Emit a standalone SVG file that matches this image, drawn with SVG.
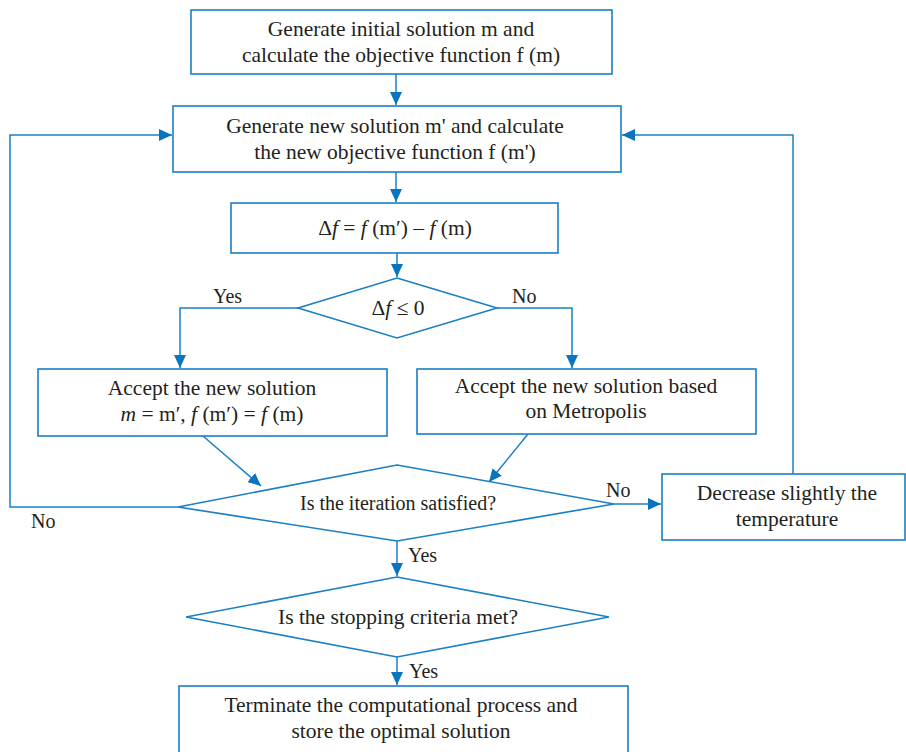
<svg xmlns="http://www.w3.org/2000/svg" width="906" height="752" viewBox="0 0 906 752">
<style>
.box{fill:#fff;stroke:#1b7fc4;stroke-width:1.6}
.con{fill:none;stroke:#1b7fc4;stroke-width:1.5}
text{font-family:"Liberation Serif","Times New Roman",serif;font-size:21.5px;fill:#231f20;text-anchor:middle}
.lbl{text-anchor:start;font-size:20px}
.i{font-style:italic}
</style>
<defs>
<marker id="ah" markerUnits="userSpaceOnUse" markerWidth="14" markerHeight="14" refX="13" refY="6" orient="auto">
<path d="M0,0 L13,6 L0,12 z" fill="#0a75bf"/>
</marker>
</defs>
<rect width="906" height="752" fill="#fff"/>
<g id="connectors">
<path class="con" d="M396,74 V105" marker-end="url(#ah)"/>
<path class="con" d="M396,172 V202" marker-end="url(#ah)"/>
<path class="con" d="M397,253 V277" marker-end="url(#ah)"/>
<path class="con" d="M298,308 H180 V368" marker-end="url(#ah)"/>
<path class="con" d="M497,308 H572 V368" marker-end="url(#ah)"/>
<path class="con" d="M203,436 L261,486" marker-end="url(#ah)"/>
<path class="con" d="M528,434 L489,482" marker-end="url(#ah)"/>
<path class="con" d="M178,507 H10 V135 H172" marker-end="url(#ah)"/>
<path class="con" d="M614,504 H661" marker-end="url(#ah)"/>
<path class="con" d="M793,474 V135 H622" marker-end="url(#ah)"/>
<path class="con" d="M397,541 V576" marker-end="url(#ah)"/>
<path class="con" d="M397,657 V685" marker-end="url(#ah)"/>
<text class="lbl" x="213" y="303">Yes</text>
<text class="lbl" x="512" y="303">No</text>
<text class="lbl" x="606" y="497">No</text>
<text class="lbl" x="31" y="528">No</text>
<text class="lbl" x="408" y="562">Yes</text>
<text class="lbl" x="409" y="678">Yes</text>
</g>
<g id="n1">
<rect class="box" x="191" y="10" width="421" height="64"/>
<text x="401" y="36">Generate initial solution m and</text>
<text x="401" y="62">calculate the objective function f (m)</text>
</g>
<g id="n2">
<rect class="box" x="173" y="106" width="448" height="66"/>
<text x="395" y="133">Generate new solution m' and calculate</text>
<text x="395" y="159">the new objective function f (m')</text>
</g>
<g id="n3">
<rect class="box" x="231" y="203" width="327" height="50"/>
<text x="395" y="235">Δ<tspan class="i">f</tspan> = <tspan class="i">f</tspan> (m′) – <tspan class="i">f</tspan> (m)</text>
</g>
<g id="d1">
<polygon class="box" points="397,278 497,308 397,338 298,308"/>
<text x="398" y="315">Δ<tspan class="i">f</tspan> ≤ 0</text>
</g>
<g id="n4">
<rect class="box" x="38" y="369" width="349" height="67"/>
<text x="212" y="395">Accept the new solution</text>
<text x="212" y="421"><tspan class="i">m</tspan> = m′, <tspan class="i">f</tspan> (m′) = <tspan class="i">f</tspan> (m)</text>
</g>
<g id="n5">
<rect class="box" x="417" y="369" width="339" height="65"/>
<text x="586" y="393">Accept the new solution based</text>
<text x="586" y="418">on Metropolis</text>
</g>
<g id="d2">
<polygon class="box" points="397,465 614,504 397,541 178,507"/>
<text x="398" y="510" style="font-size:20px">Is the iteration satisfied?</text>
</g>
<g id="n6">
<rect class="box" x="662" y="474" width="243" height="66"/>
<text x="787" y="500">Decrease slightly the</text>
<text x="787" y="526">temperature</text>
</g>
<g id="d3">
<polygon class="box" points="397,577 609,617 397,657 186,617"/>
<text x="398" y="624">Is the stopping criteria met?</text>
</g>
<g id="n7">
<rect class="box" x="179" y="686" width="449" height="70"/>
<text x="401" y="712">Terminate the computational process and</text>
<text x="401" y="738">store the optimal solution</text>
</g>
</svg>
